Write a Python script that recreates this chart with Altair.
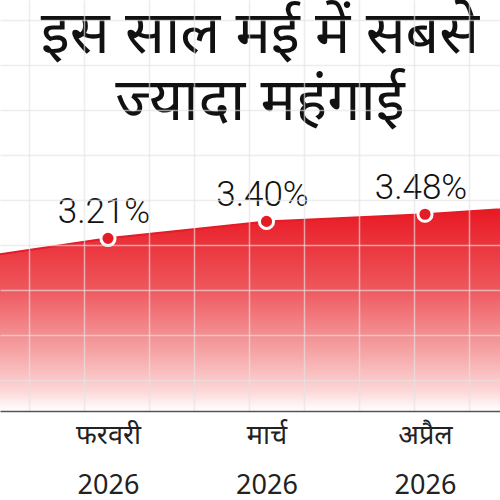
import json
import altair as alt
import pandas as pd

# ---- data ----
months = ["जनवरी", "फरवरी", "मार्च", "अप्रैल", "मई"]
years = ["2026", "2026", "2026", "2026", "2026"]
values = [2.95, 3.21, 3.40, 3.48, 3.60]
value_labels = ["2.95%", "3.21%", "3.40%", "3.48%", "3.60%"]
title_lines = ["इस साल मई में सबसे", "ज्यादा महंगाई"]

# decorative background grid (pixel positions of graph-paper lines)
grid_x_px = [29, 84, 149, 194, 249, 304, 359, 414, 469]
grid_y_px = [20, 65, 110, 155, 200, 245, 290, 335, 380]

W, H = 500, 411
RED = "#e41c26"

X_DOM = [0.3186, 3.4732]
Y_DOM = [1.277, 5.879]

df = pd.DataFrame({
    "idx": list(range(len(months))),
    "month": months,
    "year": years,
    "value": values,
    "label": value_labels,
    "base": [Y_DOM[0]] * len(months),
})

# grid positions expressed in the data units of the two scales
grid_x = [X_DOM[0] + p * (X_DOM[1] - X_DOM[0]) / W for p in grid_x_px]
grid_y = [Y_DOM[1] - p * (Y_DOM[1] - Y_DOM[0]) / H for p in grid_y_px]

x_scale = alt.Scale(domain=X_DOM, nice=False, zero=False)
y_scale = alt.Scale(domain=Y_DOM, nice=False, zero=False)

m_js = json.dumps(months, ensure_ascii=False)
y_js = json.dumps(years, ensure_ascii=False)
label_expr = ("datum.value % 1 === 0 ? [" + m_js + "[datum.value], " + y_js +
              "[datum.value]] : ''")

GRID_COLOR = "#e4e4e4"

x_enc = alt.X(
    "idx:Q", scale=x_scale,
    axis=alt.Axis(
        orient="bottom",
        values=sorted(list(range(len(months))) + grid_x),
        labelExpr=label_expr,
        grid=True, gridColor=GRID_COLOR, gridWidth=1.5,
        gridOpacity={"condition": {"test": "datum.value % 1 === 0", "value": 0},
                     "value": 0.65},
        ticks=False, domainColor="#555555", domainWidth=1.5, title=None,
        labelFont="Noto Sans", labelFontSize=27, labelColor="#222222",
        labelLineHeight=50, labelPadding=11, labelBaseline="top",
        labelOverlap=False, labelFlush=False, zindex=1,
    ),
)
y_enc = alt.Y(
    "value:Q", scale=y_scale,
    axis=alt.Axis(
        values=grid_y, grid=True, gridColor=GRID_COLOR, gridWidth=1.5,
        gridOpacity=0.65, labels=False, ticks=False, domain=False, title=None,
        zindex=1,
    ),
)

base = alt.Chart(df).encode(x=x_enc, y=y_enc)

area = base.mark_area(
    clip=True,
    color=alt.Gradient(
        gradient="linear",
        stops=[
            alt.GradientStop(color="#e8141f", offset=0),
            alt.GradientStop(color="#ee555b", offset=0.4),
            alt.GradientStop(color="#f5a0a2", offset=0.7),
            alt.GradientStop(color="#fcd6d6", offset=0.9),
            alt.GradientStop(color="#ffffff", offset=1),
        ],
        x1=0, x2=0, y1=0, y2=1,
    ),
).encode(y2="base:Q")

line = base.mark_line(clip=True, color=RED, strokeWidth=2)

points = base.mark_circle(
    size=200, color=RED, opacity=1, stroke="white", strokeWidth=3
)

text = base.mark_text(
    font="Roboto", fontWeight=300, fontSize=35, dy=-15, dx=-4,
    baseline="alphabetic", align="center", color="#111111",
).encode(text="label:N")

chart = alt.layer(area, line, points, text).properties(
    width=W, height=H,
    padding={"left": 0, "top": 0, "right": 0, "bottom": 89},
    autosize=alt.AutoSizeParams(type="none"),
    title=alt.TitleParams(
        text=title_lines, font="Noto Sans", fontSize=59, fontWeight="normal",
        color="#111111", anchor="middle", baseline="top", offset=0, dy=132,
        dx=10, lineHeight=67, frame="group",
    ),
).configure_view(stroke=None)

chart.save("out.html", embed_options={"renderer": "svg", "actions": False})
